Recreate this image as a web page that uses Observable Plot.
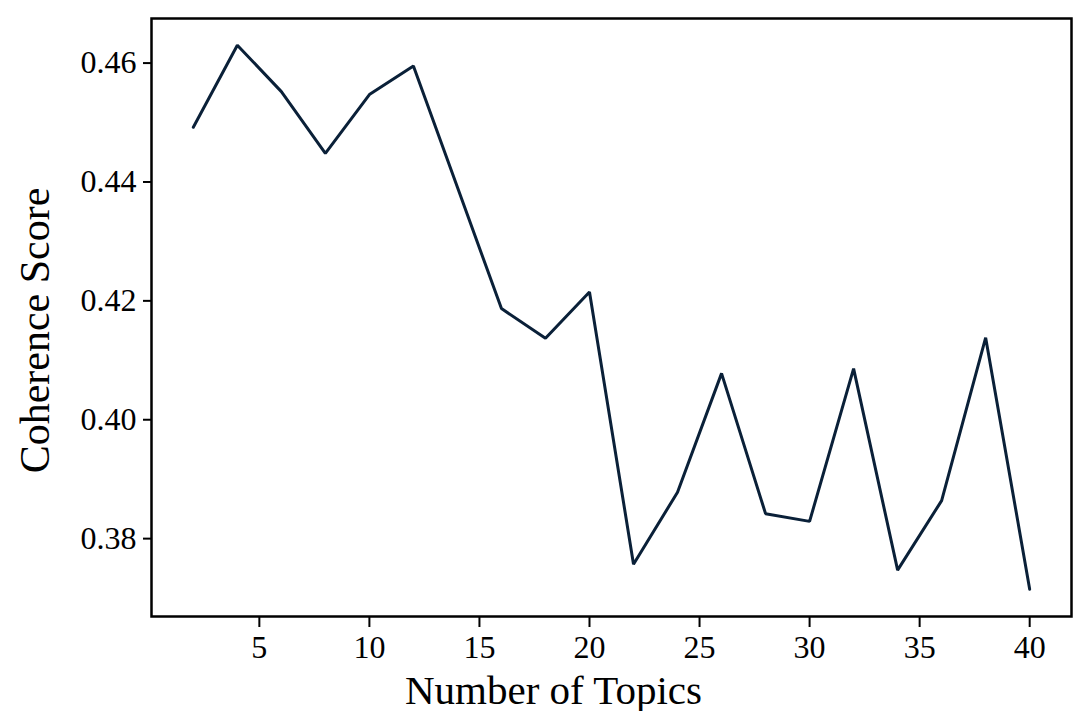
<!DOCTYPE html>
<html>
<head>
<meta charset="utf-8">
<script src="https://cdn.jsdelivr.net/npm/d3@7"></script>
<script src="https://cdn.jsdelivr.net/npm/@observablehq/plot@0.6"></script>
<style>
  html, body { margin: 0; padding: 0; background: #ffffff; }
  #chart { width: 1084px; height: 711px; }
</style>
</head>
<body>
<div id="chart"></div>
<script>
const topics = [2, 4, 6, 8, 10, 12, 14, 16, 18, 20, 22, 24, 26, 28, 30, 32, 34, 36, 38, 40];
const coherence = [0.4492, 0.4630, 0.4552, 0.4448, 0.4547, 0.4595, 0.4391, 0.4187, 0.4137, 0.4215,
                   0.3757, 0.3878, 0.4078, 0.3842, 0.3829, 0.4086, 0.3747, 0.3864, 0.4138, 0.3715];
const xTicks = [5, 10, 15, 20, 25, 30, 35, 40];
const yTicks = [0.38, 0.40, 0.42, 0.44, 0.46];
const xTitle = "Number of Topics";
const yTitle = "Coherence Score";

const data = topics.map((t, i) => ({topics: t, score: coherence[i]}));
const font = "'Liberation Serif', 'Times New Roman', serif";

const chart = Plot.plot({
  width: 1084,
  height: 711,
  marginLeft: 151,
  marginRight: 13,
  marginTop: 18,
  marginBottom: 95,
  style: {fontFamily: font, background: "#ffffff", color: "#000000", overflow: "visible"},
  x: {domain: [0.1, 41.9]},
  y: {domain: [0.3669, 0.4675]},
  marks: [
    Plot.axisX({ticks: xTicks, tickSize: 11, tickPadding: 8, fontSize: 32, label: null, tickFormat: d => String(d), strokeWidth: 2}),
    Plot.axisY({ticks: yTicks, tickSize: 8, tickPadding: 7, fontSize: 32, label: null, tickFormat: d3.format(".2f"), strokeWidth: 2}),
    Plot.line(data, {x: "topics", y: "score", stroke: "#0a2038", strokeWidth: 3, strokeLinejoin: "miter"}),
    Plot.frame({stroke: "#000000", strokeWidth: 2.5}),
    Plot.text([xTitle], {frameAnchor: "bottom", textAnchor: "middle", lineAnchor: "bottom", dx: -58, dy: 87, fontSize: 41, fill: "#000000"}),
    Plot.text([yTitle], {frameAnchor: "left", textAnchor: "middle", lineAnchor: "middle", dx: -116, dy: 13, rotate: -90, fontSize: 42, fill: "#000000"})
  ]
});
document.getElementById("chart").appendChild(chart);
</script>
</body>
</html>
